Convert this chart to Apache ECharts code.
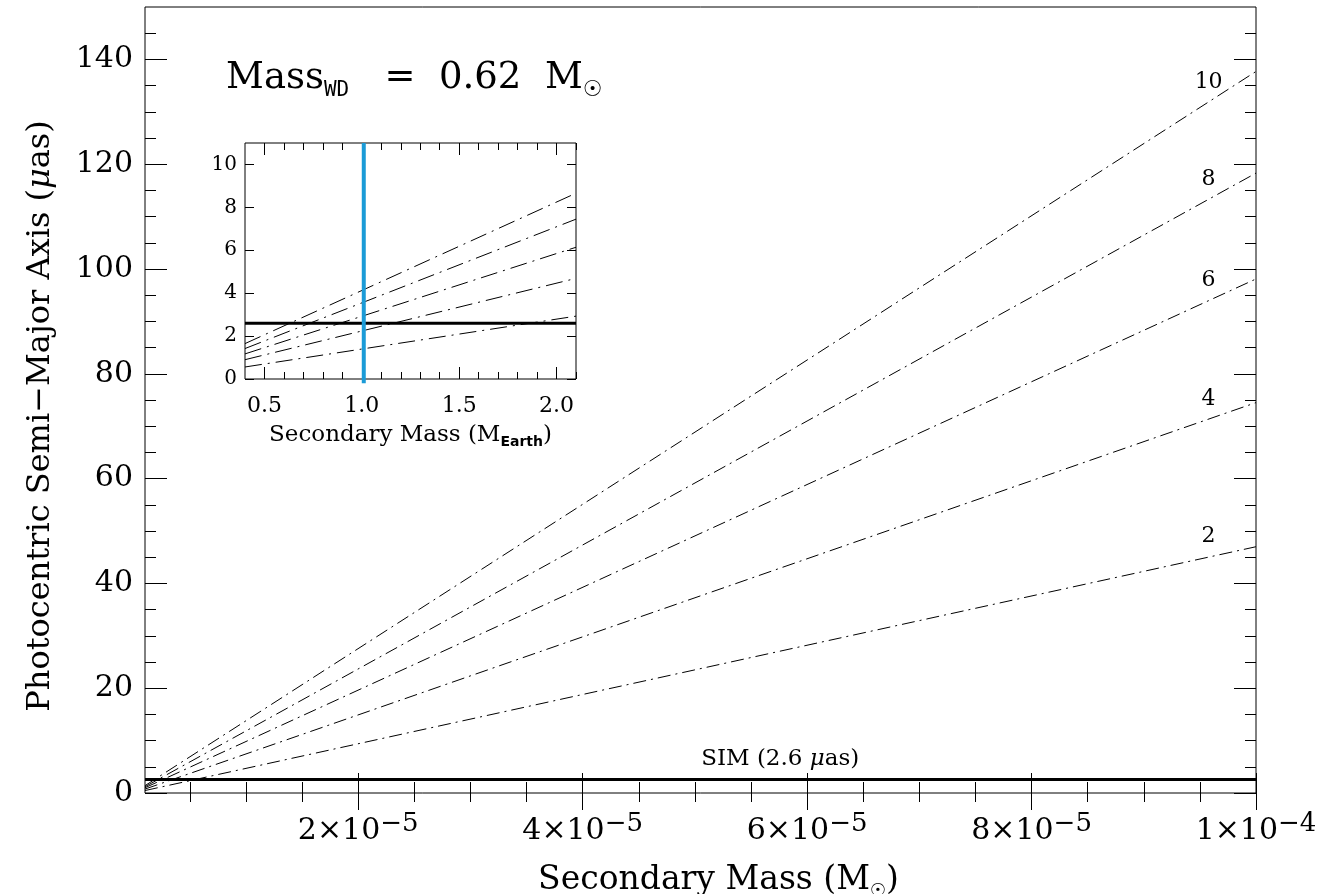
<!DOCTYPE html>
<html>
<head>
<meta charset="utf-8">
<script src="https://cdn.jsdelivr.net/npm/echarts@6/dist/echarts.min.js"></script>
<style>
  html, body { margin: 0; padding: 0; background: #fff; }
  #main { width: 1330px; height: 894px; }
</style>
</head>
<body>
<div id="main"></div>
<script>
// orbital periods (labels of the dash-dot lines)
var periods = ['10', '8', '6', '4', '2'];

// main panel: secondary mass (Msun) at both ends, photocentric axis (uas)
var massEnds = [1e-6, 1e-4];
var alpha10 = [1.4, 137.7];
var alpha8 = [1.2, 118.3];
var alpha6 = [1.0, 98.1];
var alpha4 = [0.75, 74.5];
var alpha2 = [0.47, 47.0];
var simLevel = 2.6;

// inset: secondary mass (Earth masses)
var earthEnds = [0.4, 2.1];
var inset10 = [1.65, 8.66];
var inset8 = [1.42, 7.45];
var inset6 = [1.17, 6.14];
var inset4 = [0.90, 4.69];
var inset2 = [0.56, 2.93];
var earthMark = 1.01;
var earthMarkSpan = [-0.2, 11];

// tick values
var xMajor = [2e-5, 4e-5, 6e-5, 8e-5, 1e-4];
var yMajor = [0, 20, 40, 60, 80, 100, 120, 140];
var insetXMajor = [0.5, 1.0, 1.5, 2.0];
var insetYMajor = [0, 2, 4, 6, 8, 10];

var xMinor = [];
for (var k = 1; k < 20; k++) { if (k % 4 !== 0) xMinor.push(k * 0.5e-5); }
var yMinor = [];
for (var k = 5; k < 150; k += 5) { if (k % 20 !== 0) yMinor.push(k); }
var insetXMinor = [];
for (var k = 5; k <= 21; k++) { if (k % 5 !== 0) insetXMinor.push(k / 10); }

var mainLines = [alpha10, alpha8, alpha6, alpha4, alpha2];
var insetLines = [inset10, inset8, inset6, inset4, inset2];
var labelMass = 9.56e-5;
var simLabelMass = 5.76e-5;

var font = 'DejaVu Serif';
var myChart = echarts.init(document.getElementById('main'));

function tickAxis(grid, pos, min, max, values, len, extra) {
    var ax = {
        type: 'value', gridIndex: grid, position: pos, min: min, max: max,
        axisLine: { show: false },
        splitLine: { show: false },
        axisTick: {
            show: true, inside: true, length: len, customValues: values,
            lineStyle: { color: '#000', width: 1 }
        },
        axisLabel: { show: false }
    };
    return Object.assign(ax, extra || {});
}

function pair(xs, ys) {
    return xs.map(function (x, i) { return [x, ys[i]]; });
}

function atMass(ys, x) {
    return ys[0] + (ys[1] - ys[0]) * (x - massEnds[0]) / (massEnds[1] - massEnds[0]);
}

var series = [];
mainLines.forEach(function (ys, i) {
    series.push({
        name: periods[i], type: 'line', xAxisIndex: 0, yAxisIndex: 0,
        data: pair(massEnds, ys), symbol: 'none', silent: true,
        lineStyle: { color: '#000', width: 1, type: [13, 5, 2, 5] },
        markPoint: {
            symbol: 'circle', symbolSize: 0, silent: true,
            label: {
                show: true, position: 'inside', offset: [2, -21],
                formatter: periods[i], color: '#000', fontFamily: font, fontSize: 22
            },
            data: [{ coord: [labelMass, atMass(ys, labelMass)] }]
        }
    });
});
series.push({
    name: 'SIM', type: 'line', xAxisIndex: 0, yAxisIndex: 0,
    data: pair(massEnds, [simLevel, simLevel]), symbol: 'none', silent: true,
    lineStyle: { color: '#000', width: 3 },
    markPoint: {
        symbol: 'circle', symbolSize: 0, silent: true,
        label: {
            show: true, position: 'inside', offset: [0, -20],
            formatter: 'SIM (2.6 {i|μ}as)', color: '#000', fontFamily: font, fontSize: 23,
            rich: { i: { fontFamily: font, fontStyle: 'italic', fontSize: 23 } }
        },
        data: [{ coord: [simLabelMass, simLevel] }]
    }
});
insetLines.forEach(function (ys, i) {
    series.push({
        name: 'inset ' + periods[i], type: 'line', xAxisIndex: 4, yAxisIndex: 4,
        data: pair(earthEnds, ys), symbol: 'none', silent: true,
        lineStyle: { color: '#000', width: 1, type: [17, 6, 2, 6] }
    });
});
series.push({
    name: 'inset SIM', type: 'line', xAxisIndex: 4, yAxisIndex: 4,
    data: pair(earthEnds, [simLevel, simLevel]), symbol: 'none', silent: true,
    lineStyle: { color: '#000', width: 3 }
});
series.push({
    name: 'Earth', type: 'line', xAxisIndex: 4, yAxisIndex: 4, clip: false,
    data: pair([earthMark, earthMark], earthMarkSpan), symbol: 'none', silent: true,
    lineStyle: { color: '#1b9bd7', width: 4 }
});

var option = {
    animation: false,
    backgroundColor: '#fff',
    title: {
        left: 221, top: 50,
        text: '{m|Mass}{s|WD}{m|   =  0.62  M}{o|☉}',
        textStyle: {
            fontWeight: 'normal',
            rich: {
                m: { fontFamily: font, fontWeight: 'normal', fontSize: 37, lineHeight: 46, color: '#000' },
                s: { fontFamily: 'DejaVu Sans Mono', fontWeight: 'normal', fontSize: 21, lineHeight: 26, verticalAlign: 'bottom', color: '#000' },
                o: { fontFamily: 'DejaVu Sans', fontWeight: 'normal', fontSize: 22, lineHeight: 24, verticalAlign: 'bottom', color: '#000' }
            }
        }
    },
    grid: [
        { left: 145, top: 7, right: 74, bottom: 101, outerBoundsMode: 'none', show: true, borderColor: '#000', borderWidth: 1, backgroundColor: 'transparent' },
        { left: 245, top: 143, width: 331, height: 236, outerBoundsMode: 'none', show: true, borderColor: '#000', borderWidth: 1, backgroundColor: '#fff' }
    ],
    xAxis: [
        tickAxis(0, 'bottom', massEnds[0], massEnds[1], xMajor, 20, {
            axisLabel: {
                show: true, customValues: xMajor, margin: 18,
                formatter: function (v) {
                    var e = Math.floor(Math.log10(v) + 1e-9);
                    var m = Math.round(v / Math.pow(10, e));
                    return '{b|' + m + '×10}{s|−' + (-e) + '}';
                },
                rich: {
                    b: { fontFamily: font, fontSize: 30, color: '#000' },
                    s: { fontFamily: font, fontSize: 26, color: '#000', padding: [0, 0, 14, 0] }
                }
            },
            name: 'Secondary Mass (M{o|☉})', nameLocation: 'middle', nameGap: 67,
            nameTextStyle: {
                fontFamily: font, fontSize: 33, color: '#000', lineHeight: 40, padding: [0, 0, 0, 36],
                rich: { o: { fontFamily: 'DejaVu Sans', fontSize: 18, lineHeight: 22, verticalAlign: 'bottom', color: '#000' } }
            }
        }),
        tickAxis(0, 'bottom', massEnds[0], massEnds[1], xMinor, 11),
        tickAxis(0, 'top', massEnds[0], massEnds[1], xMajor, 17),
        tickAxis(0, 'top', massEnds[0], massEnds[1], xMinor, 9),
        tickAxis(1, 'bottom', earthEnds[0], earthEnds[1], insetXMajor, 12, {
            axisLabel: {
                show: true, customValues: insetXMajor, margin: 16,
                formatter: function (v) { return v.toFixed(1); },
                fontFamily: font, fontSize: 22, color: '#000'
            },
            name: 'Secondary Mass (M{e|Earth})', nameLocation: 'middle', nameGap: 42,
            nameTextStyle: {
                fontFamily: font, fontSize: 23, color: '#000', lineHeight: 28,
                rich: { e: { fontFamily: 'DejaVu Sans', fontWeight: 'bold', fontSize: 14, lineHeight: 16, verticalAlign: 'bottom', color: '#000' } }
            }
        }),
        tickAxis(1, 'bottom', earthEnds[0], earthEnds[1], insetXMinor, 7),
        tickAxis(1, 'top', earthEnds[0], earthEnds[1], insetXMajor, 12),
        tickAxis(1, 'top', earthEnds[0], earthEnds[1], insetXMinor, 7)
    ],
    yAxis: [
        tickAxis(0, 'left', 0, 150, yMajor, 22, {
            axisLabel: {
                show: true, customValues: yMajor, margin: 12,
                fontFamily: font, fontSize: 30, color: '#000'
            },
            name: 'Photocentric Semi−Major Axis ({i|μ}as)', nameLocation: 'middle', nameGap: 88,
            nameTextStyle: {
                fontFamily: font, fontSize: 32, color: '#000', padding: [0, 32, 0, 0],
                rich: { i: { fontFamily: font, fontStyle: 'italic', fontSize: 32, color: '#000' } }
            }
        }),
        tickAxis(0, 'left', 0, 150, yMinor, 11),
        tickAxis(0, 'right', 0, 150, yMajor, 22),
        tickAxis(0, 'right', 0, 150, yMinor, 11),
        tickAxis(1, 'left', 0, 11, insetYMajor, 9, {
            axisLabel: {
                show: true, customValues: insetYMajor, margin: 8,
                fontFamily: font, fontSize: 20, color: '#000'
            }
        }),
        tickAxis(1, 'right', 0, 11, insetYMajor, 9)
    ],
    series: series
};
option && myChart.setOption(option);
</script>
</body>
</html>
